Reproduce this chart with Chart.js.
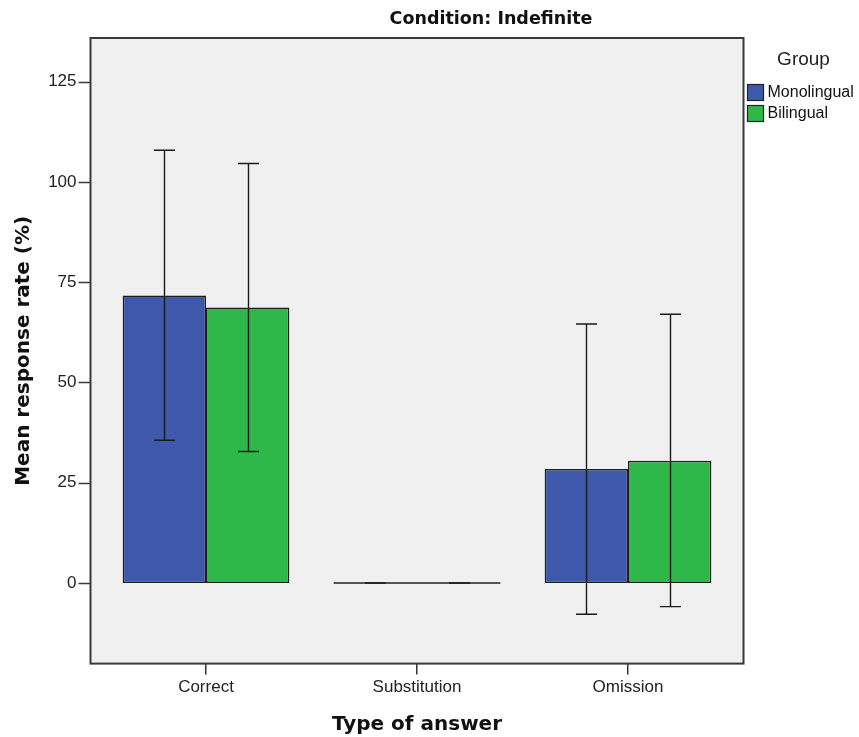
<!DOCTYPE html>
<html>
<head>
<meta charset="utf-8">
<script src="https://cdn.jsdelivr.net/npm/chart.js@4/dist/chart.umd.min.js"></script>
<style>
  body { margin: 0; background: #fff; }
  canvas { display: block; }
</style>
</head>
<body>
<canvas id="chart" width="859" height="737"></canvas>
<script>
// data
const categories = ['Correct', 'Substitution', 'Omission'];
const groups = ['Monolingual', 'Bilingual'];
const monoMean = [71.7, 0, 28.4];
const biliMean = [68.7, 0, 30.5];
const monoLow = [35.6, 0, -7.8];
const monoHigh = [107.9, 0, 64.6];
const biliLow = [32.8, 0, -5.9];
const biliHigh = [104.6, 0, 67.0];
const yTicks = [0, 25, 50, 75, 100, 125];

const chartTitle = 'Condition: Indefinite';
const legendTitle = 'Group';

const errors = [
  { low: monoLow, high: monoHigh },
  { low: biliLow, high: biliHigh }
];

const FRAME_PAD = 10;
const BOLD_FONT = '"DejaVu Sans", sans-serif';
const TEXT_FONT = '"Liberation Sans", Arial, sans-serif';

// SPSS look: grey frame, error bars, y tick marks, title and legend
const spssLook = {
  id: 'spssLook',
  beforeDatasetsDraw(chart) {
    const { ctx, chartArea: a } = chart;
    ctx.save();
    ctx.fillStyle = '#f0f0f0';
    ctx.fillRect(a.left - FRAME_PAD, a.top, a.right - a.left + 2 * FRAME_PAD, a.bottom - a.top);
    ctx.restore();
  },
  afterDatasetsDraw(chart) {
    const { ctx, chartArea: a } = chart;
    const y = chart.scales.y;
    ctx.save();

    // zero height bars still show their outline
    chart.data.datasets.forEach((ds, di) => {
      chart.getDatasetMeta(di).data.forEach((bar, i) => {
        if (ds.data[i] !== 0) return;
        ctx.strokeStyle = '#222';
        ctx.lineWidth = 1.5;
        ctx.beginPath();
        ctx.moveTo(bar.x - bar.width / 2, bar.y);
        ctx.lineTo(bar.x + bar.width / 2, bar.y);
        ctx.stroke();
      });
    });

    // error bars
    ctx.strokeStyle = '#1a1a1a';
    ctx.lineWidth = 1.4;
    errors.forEach((e, di) => {
      chart.getDatasetMeta(di).data.forEach((bar, i) => {
        const yl = y.getPixelForValue(e.low[i]);
        const yh = y.getPixelForValue(e.high[i]);
        const x = Math.round(bar.x) + 0.5;
        ctx.beginPath();
        ctx.moveTo(x, yl); ctx.lineTo(x, yh);
        ctx.moveTo(x - 10.5, yl); ctx.lineTo(x + 10.5, yl);
        ctx.moveTo(x - 10.5, yh); ctx.lineTo(x + 10.5, yh);
        ctx.stroke();
      });
    });

    // frame
    const fl = a.left - FRAME_PAD, fr = a.right + FRAME_PAD;
    ctx.strokeStyle = '#3a3a3a';
    ctx.lineWidth = 2;
    ctx.strokeRect(fl, a.top, fr - fl, a.bottom - a.top);

    // y tick marks on the frame
    ctx.lineWidth = 1.5;
    yTicks.forEach(v => {
      const py = Math.round(y.getPixelForValue(v)) + 0.5;
      ctx.beginPath();
      ctx.moveTo(fl - 12, py);
      ctx.lineTo(fl, py);
      ctx.stroke();
    });

    // title
    ctx.fillStyle = '#111';
    ctx.font = 'bold 17.5px ' + BOLD_FONT;
    ctx.textAlign = 'center';
    ctx.textBaseline = 'middle';
    ctx.fillText(chartTitle, 491, 19);

    // legend
    const lx = fr + 4;
    ctx.fillStyle = '#222';
    ctx.font = '19px ' + TEXT_FONT;
    ctx.fillText(legendTitle, lx + 56, 60);
    ctx.textAlign = 'left';
    ctx.font = '16px ' + TEXT_FONT;
    chart.data.datasets.forEach((ds, di) => {
      const by = 84.5 + di * 21;
      ctx.fillStyle = ds.backgroundColor;
      ctx.fillRect(lx, by, 16, 16);
      ctx.strokeStyle = '#222';
      ctx.lineWidth = 1.2;
      ctx.strokeRect(lx, by, 16, 16);
      ctx.fillStyle = '#111';
      ctx.fillText(ds.label, lx + 20, by + 8.5);
    });
    ctx.restore();
  }
};

new Chart(document.getElementById('chart'), {
  type: 'bar',
  data: {
    labels: categories,
    datasets: [
      {
        label: groups[0],
        data: monoMean,
        backgroundColor: '#3e58ab',
        borderColor: '#1e1e1e',
        borderWidth: 1.5
      },
      {
        label: groups[1],
        data: biliMean,
        backgroundColor: '#2fb84a',
        borderColor: '#1e1e1e',
        borderWidth: 1.5
      }
    ]
  },
  options: {
    responsive: false,
    animation: false,
    layout: { padding: { top: 38, right: 125.5, left: 0, bottom: 0 } },
    datasets: {
      bar: { categoryPercentage: 0.79, barPercentage: 1.0, borderSkipped: false }
    },
    plugins: {
      title: { display: false },
      legend: { display: false },
      tooltip: { enabled: false }
    },
    scales: {
      x: {
        border: { display: false },
        grid: { display: true, drawOnChartArea: false, offset: false, tickLength: 11, color: '#333', lineWidth: 1.5 },
        ticks: { color: '#222', padding: 3, font: { family: TEXT_FONT, size: 17 } },
        title: {
          display: true,
          text: 'Type of answer',
          color: '#111',
          font: { family: BOLD_FONT, size: 20, weight: 'bold' },
          padding: { top: 12, bottom: 0 }
        }
      },
      y: {
        min: -20.1,
        max: 135.9,
        border: { display: false },
        grid: { display: false, drawTicks: false },
        afterFit(scale) { scale.width = 100.5; },
        afterBuildTicks(scale) { scale.ticks = yTicks.map(v => ({ value: v })); },
        ticks: { color: '#222', padding: 24, font: { family: TEXT_FONT, size: 17 } },
        title: {
          display: true,
          text: 'Mean response rate (%)',
          color: '#111',
          font: { family: BOLD_FONT, size: 20, weight: 'bold' },
          padding: { top: 12, bottom: 0 }
        }
      }
    }
  },
  plugins: [spssLook]
});
</script>
</body>
</html>
